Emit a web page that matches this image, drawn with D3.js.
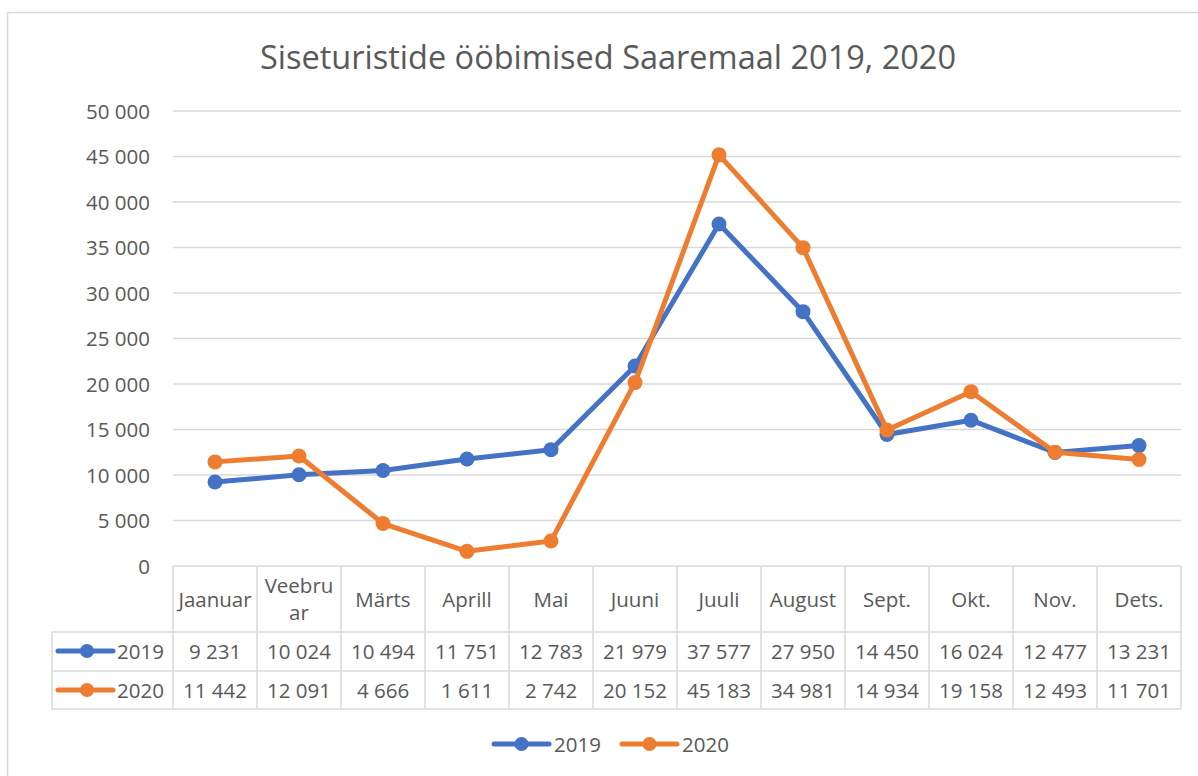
<!DOCTYPE html>
<html lang="et">
<head>
<meta charset="UTF-8">
<title>Siseturistide ööbimised Saaremaal 2019, 2020</title>
<style>
  body { margin: 0; background: #fff; }
  svg text { font-family: "Open Sans", "Noto Sans", sans-serif; fill: #595959; }
</style>
</head>
<body>
<svg id="chart" width="1198" height="776"></svg>
<script src="https://cdnjs.cloudflare.com/ajax/libs/d3/7.8.5/d3.min.js"></script>
<script>
const months = ["Jaanuar", "Veebruar", "Märts", "Aprill", "Mai", "Juuni", "Juuli", "August", "Sept.", "Okt.", "Nov.", "Dets."];
const monthLines = [["Jaanuar"], ["Veebru", "ar"], ["Märts"], ["Aprill"], ["Mai"], ["Juuni"], ["Juuli"], ["August"], ["Sept."], ["Okt."], ["Nov."], ["Dets."]];
const values2019 = [9231, 10024, 10494, 11751, 12783, 21979, 37577, 27950, 14450, 16024, 12477, 13231];
const values2020 = [11442, 12091, 4666, 1611, 2742, 20152, 45183, 34981, 14934, 19158, 12493, 11701];
const yTicks = [0, 5000, 10000, 15000, 20000, 25000, 30000, 35000, 40000, 45000, 50000];

const series = [
  { name: "2019", values: values2019, color: "#4472C4" },
  { name: "2020", values: values2020, color: "#ED7D31" }
];

const svg = d3.select("#chart");
const grid = "#d9d9d9";
const fmt = v => d3.format(",")(v).replace(/,/g, " ");

// chart frame (runs off the right/bottom edge)
svg.append("rect").attr("x", 7.5).attr("y", 12.5).attr("width", 1300).attr("height", 900)
  .attr("fill", "none").attr("stroke", grid).attr("stroke-width", 1.5);

const x = d3.scaleBand().domain(months).range([173, 1181]);
const y = d3.scaleLinear().domain([0, 50000]).range([566, 111]);

svg.append("text").attr("x", 608).attr("y", 69).attr("text-anchor", "middle")
  .style("font-size", "32.5px").text("Siseturistide ööbimised Saaremaal 2019, 2020");

// gridlines
svg.append("g").selectAll("line").data(yTicks.filter(d => d > 0)).join("line")
  .attr("x1", 173).attr("x2", 1181).attr("y1", d => y(d)).attr("y2", d => y(d))
  .attr("stroke", grid).attr("stroke-width", 1.5);

svg.append("g").selectAll("text").data(yTicks).join("text")
  .attr("x", 150).attr("y", d => y(d) + 7.5).attr("text-anchor", "end")
  .style("font-size", "20.5px").text(d => fmt(d));

// data table
const rowTop = 566, headBot = 632, row1Bot = 671, row2Bot = 709, legL = 52;
const t = svg.append("g").attr("stroke", grid).attr("stroke-width", 1.5);
[rowTop].forEach(v => t.append("line").attr("x1", 173).attr("x2", 1181).attr("y1", v).attr("y2", v));
[headBot, row1Bot, row2Bot].forEach(v => t.append("line").attr("x1", legL).attr("x2", 1181).attr("y1", v).attr("y2", v));
months.forEach(m => t.append("line").attr("x1", x(m)).attr("x2", x(m)).attr("y1", rowTop).attr("y2", row2Bot));
t.append("line").attr("x1", 1181).attr("x2", 1181).attr("y1", rowTop).attr("y2", row2Bot);
t.append("line").attr("x1", legL).attr("x2", legL).attr("y1", headBot).attr("y2", row2Bot);

months.forEach((m, i) => {
  const lines = monthLines[i];
  const cx = x(m) + x.bandwidth() / 2;
  const y0 = lines.length === 1 ? 607 : 593;
  lines.forEach((l, j) => svg.append("text").attr("x", cx).attr("y", y0 + j * 27)
    .attr("text-anchor", "middle").style("font-size", "20.5px").text(l));
});

const rowMid = [651, 690];
series.forEach((s, k) => {
  const ym = rowMid[k];
  svg.append("line").attr("x1", 58).attr("x2", 113).attr("y1", ym).attr("y2", ym)
    .attr("stroke", s.color).attr("stroke-width", 5).attr("stroke-linecap", "round");
  svg.append("circle").attr("cx", 87).attr("cy", ym).attr("r", 7).attr("fill", s.color);
  svg.append("text").attr("x", 117).attr("y", ym + 7.5).style("font-size", "20.5px").text(s.name);
  s.values.forEach((v, i) => svg.append("text").attr("x", x(months[i]) + x.bandwidth() / 2)
    .attr("y", ym + 7.5).attr("text-anchor", "middle").style("font-size", "20.5px").text(fmt(v)));
});

// lines
const line = d3.line().x((d, i) => x(months[i]) + x.bandwidth() / 2).y(d => y(d));
series.forEach(s => {
  const g = svg.append("g");
  g.append("path").attr("d", line(s.values)).attr("fill", "none")
    .attr("stroke", s.color).attr("stroke-width", 5).attr("stroke-linejoin", "round").attr("stroke-linecap", "round");
  g.selectAll("circle").data(s.values).join("circle")
    .attr("cx", (d, i) => x(months[i]) + x.bandwidth() / 2).attr("cy", d => y(d))
    .attr("r", 7.5).attr("fill", s.color);
});

// legend
const leg = [{ x1: 494, tx: 554 }, { x1: 622, tx: 682 }];
series.forEach((s, k) => {
  const ly = 744;
  svg.append("line").attr("x1", leg[k].x1).attr("x2", leg[k].x1 + 55).attr("y1", ly).attr("y2", ly)
    .attr("stroke", s.color).attr("stroke-width", 5).attr("stroke-linecap", "round");
  svg.append("circle").attr("cx", leg[k].x1 + 27.5).attr("cy", ly).attr("r", 7).attr("fill", s.color);
  svg.append("text").attr("x", leg[k].tx).attr("y", ly + 7.5).style("font-size", "20.5px").text(s.name);
});
</script>
</body>
</html>
